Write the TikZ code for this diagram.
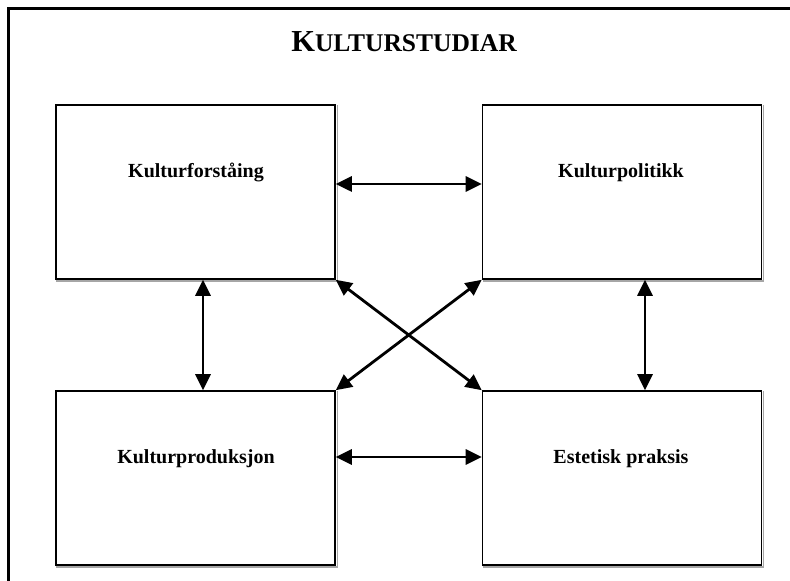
\documentclass[tikz,border=0pt]{standalone}
\usepackage{fontspec}
\setmainfont{Liberation Serif}
\usetikzlibrary{arrows.meta,calc}
\begin{document}
\begin{tikzpicture}[x=1pt,y=1pt,
  box/.style={draw=black, line width=1.6pt, fill=white, minimum width=279pt, minimum height=174pt, inner sep=0pt},
  shade/.style={draw=gray!70, line width=1.4pt},
  lbl/.style={font=\bfseries\fontsize{20}{24}\selectfont, inner sep=0pt, anchor=base},
  arr/.style={line width=2.8pt, {Triangle[length=16pt,width=15pt]}-{Triangle[length=16pt,width=15pt]}},
  frame/.style={line width=2.2pt, line cap=rect}]
\useasboundingbox (0,0) rectangle (790,581);
% outer frame (open at right and bottom)
\coordinate (fb) at (8.5,-2);
\coordinate (fc) at (8.5,572.5);
\coordinate (fr) at (789,572.5);
\draw[frame] (fb) -- (fc) -- (fr);
% title
\node[anchor=base, inner sep=0pt, font=\bfseries] (title) at (404,529)
  {\fontsize{30.5}{34}\selectfont K\fontsize{25.5}{28}\selectfont ULTURSTUDIAR};
% boxes
\node[box] (tl) at (195.5,389) {};
\node[box] (tr) at (622,389) {};
\node[box] (bl) at (195.5,103) {};
\node[box] (br) at (622,103) {};
% gray shadow lines along right and bottom edges
\foreach \b in {tl,tr,bl,br}{
  \draw[shade] ($(\b.north east)+(1.4,-1)$) -- ($(\b.south east)+(1.4,-1.4)$) -- ($(\b.south west)+(1,-1.4)$);
}
% labels
\node[lbl] (ltl) at ($(tl.center)+(0.5,14)$) {Kulturforståing};
\node[lbl] (ltr) at ($(tr.center)+(-1,14)$) {Kulturpolitikk};
\node[lbl] (lbl1) at ($(bl.center)+(0.5,14)$) {Kulturproduksjon};
\node[lbl] (lbr) at ($(br.center)+(-1,14)$) {Estetisk praksis};
% connectors
\draw[arr] ($(tl.east)+(0,8)$) -- ($(tr.west)+(0,8)$);
\draw[arr] ($(bl.east)+(0,21)$) -- ($(br.west)+(0,21)$);
\draw[arr] ($(tl.south)+(7.5,0)$) -- ($(bl.north)+(7.5,0)$);
\draw[arr] ($(tr.south)+(23,0)$) -- ($(br.north)+(23,0)$);
\draw[arr] (tl.south east) -- (br.north west);
\draw[arr] (tr.south west) -- (bl.north east);
\end{tikzpicture}
\end{document}
